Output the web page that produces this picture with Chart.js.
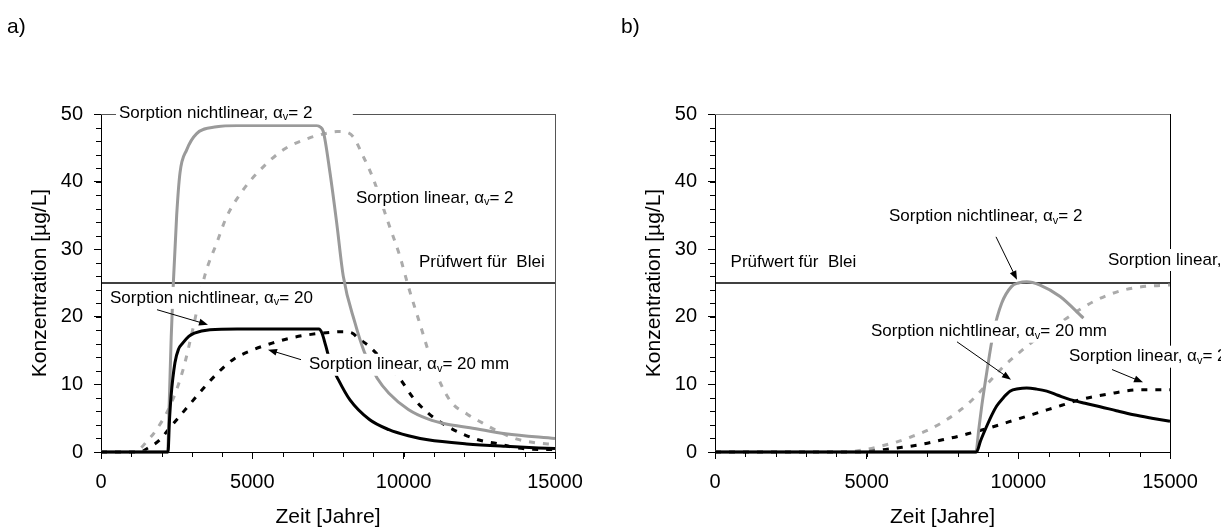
<!DOCTYPE html>
<html>
<head>
<meta charset="utf-8">
<script src="https://cdn.jsdelivr.net/npm/chart.js@4.4.1/dist/chart.umd.min.js"></script>
<style>
    body { margin: 0; background: #fff; }
    #wrap { position: relative; width: 1221px; height: 530px; overflow: hidden; }
    canvas { position: absolute; top: 0; }
    #chartA { left: 0; }
    #chartB { left: 614px; }
</style>
</head>
<body>
<div id="wrap">
    <canvas id="chartA" width="610" height="530"></canvas>
    <canvas id="chartB" width="607" height="530"></canvas>
</div>
<script>
// axes
const yearTicks = [0, 5000, 10000, 15000];
const concTicks = [0, 10, 20, 30, 40, 50];
const yearMinorStep = 1000;
const concMinorStep = 2;
const pruefwert = 25;

// panel a) 
const aNonlin2X = [0, 2200, 2260, 2320, 2390, 2500, 2610, 2831, 3161, 3822, 4500, 7126, 7236, 7346, 7566, 7787, 8005, 8392, 8700, 9126, 9512, 10154, 10797, 11440, 12192, 13368, 15000];
const aNonlin2Y = [0, 0, 8, 17, 25, 35, 41.3, 44.7, 47.1, 48.1, 48.3, 48.3, 48.1, 47.4, 41.3, 33.9, 26.0, 19.1, 14.8, 10.9, 8.7, 6.3, 4.9, 4.1, 3.6, 2.7, 2.0];
const aNonlin20X = [0, 2215, 2260, 2314, 2443, 2560, 2699, 2900, 3085, 3599, 4500, 7198, 7300, 7420, 7583, 7841, 8226, 8869, 9512, 10154, 10797, 12082, 13368, 15000];
const aNonlin20Y = [0, 0, 4.5, 8.2, 13.2, 15.2, 16.1, 17.1, 17.6, 18.1, 18.2, 18.2, 17.6, 15.8, 13.2, 10.7, 7.7, 4.8, 3.3, 2.4, 1.8, 1.2, 0.84, 0.5];
const aLin2X = [0, 1150, 1300, 1500, 1800, 2300, 2700, 3000, 3436, 3822, 4152, 4702, 5253, 6023, 6850, 7500, 7800, 8100, 8336, 8667, 8970, 9493, 9879, 10154, 10500, 11000, 11550, 12100, 12600, 13100, 13750, 14300, 15000];
const aLin2Y = [0, 0, 0.5, 1.5, 3.1, 7, 12, 17.5, 26.2, 30.9, 34.8, 38.8, 41.7, 44.7, 46.4, 47.2, 47.4, 47.3, 46.6, 43.7, 40.7, 33.9, 28.9, 24.5, 19.5, 12.5, 7.5, 5.6, 4.3, 3.1, 1.9, 1.4, 1.1];
const aLin20X = [0, 1300, 1550, 1894, 2314, 2828, 3342, 3856, 4370, 5013, 5655, 6298, 6941, 7583, 7969, 8300, 8483, 8869, 9383, 9897, 10283, 10797, 11440, 12423, 13083, 13678, 14273, 15000];
const aLin20Y = [0, 0, 0.6, 1.6, 3.8, 6.5, 9.2, 11.7, 13.7, 15.1, 16.1, 16.9, 17.4, 17.7, 17.8, 17.6, 16.9, 15.6, 13.2, 10.7, 8.2, 5.8, 3.8, 1.85, 1.25, 0.66, 0.4, 0.35];

// panel b)
const bNonlin2X = [0, 8600, 8700, 8800, 8956, 9176, 9450, 9780, 10000, 10275, 10716, 11377, 12147];
const bNonlin2Y = [0, 0, 3.5, 7, 11.7, 17.6, 22.0, 24.5, 25.0, 25.2, 24.7, 23.0, 19.8];
const bNonlin20X = [0, 8620, 8750, 8956, 9128, 9286, 9500, 9725, 10000, 10275, 10600, 10936, 11300, 11707, 12200, 12698, 13231, 13799, 14400, 15000];
const bNonlin20Y = [0, 0, 1.6, 3.8, 5.5, 6.8, 8.0, 9.0, 9.35, 9.45, 9.3, 9.0, 8.4, 7.75, 7.2, 6.7, 6.1, 5.5, 5.0, 4.55];
const bLin2X = [0, 4300, 5000, 5500, 6000, 6500, 7000, 7500, 8000, 8500, 9000, 9500, 10000, 10500, 11000, 11500, 12000, 12500, 13000, 13500, 14000, 14500, 15000];
const bLin2Y = [0, 0, 0.4, 0.9, 1.5, 2.3, 3.2, 4.4, 5.9, 7.8, 10.2, 12.6, 14.6, 16.4, 17.9, 19.5, 21, 22.3, 23.3, 24, 24.4, 24.6, 24.7];
const bLin20X = [0, 4800, 5500, 6000, 6500, 7000, 7500, 8000, 8500, 9000, 9500, 10000, 10500, 11000, 11500, 12000, 12500, 13000, 13500, 14000, 14500, 15000];
const bLin20Y = [0, 0, 0.3, 0.6, 0.9, 1.3, 1.8, 2.3, 2.9, 3.5, 4.2, 4.9, 5.6, 6.3, 7.0, 7.7, 8.2, 8.6, 9.0, 9.2, 9.2, 9.2];

const FONT = '"Liberation Sans", Arial, sans-serif';
const GRAY = '#9a9a9a';
const GRAY_DASH = '#ababab';

function series(xs, ys) {
    return xs.map((v, i) => ({x: v, y: ys[i]}));
}

function line(data, color, dashed, width) {
    return {
        data: data,
        borderColor: color,
        borderWidth: width || 3,
        borderDash: dashed ? [6, 8] : [],
        pointRadius: 0,
        cubicInterpolationMode: 'monotone',
        clip: 6
    };
}

function pruefLine() {
    const first = yearTicks[0], last = yearTicks[yearTicks.length - 1];
    return line(series([first, last], [pruefwert, pruefwert]), '#000', false, 1.5);
}

// text label with optional alpha_v part, and a white box behind it
function drawNote(chart, n) {
    const {ctx, scales: {x, y}} = chart;
    const px = x.getPixelForValue(n.x), py = y.getPixelForValue(n.y);
    const main = '17px ' + FONT, sub = '11px ' + FONT;
    const segs = [{t: n.text, f: main, dy: 0}];
    if (n.rest !== undefined) {
        segs.push({t: 'α', f: main, dy: 0}, {t: 'v', f: sub, dy: 4}, {t: n.rest, f: main, dy: 0});
    }
    let w = 0;
    segs.forEach(s => { ctx.font = s.f; s.w = ctx.measureText(s.t).width; w += s.w; });
    const right = n.boxTo !== undefined ? x.getPixelForValue(n.boxTo) : px + w + 2;
    ctx.fillStyle = '#fff';
    ctx.fillRect(px - 3, py - 11, right - px + 3, 22);
    ctx.fillStyle = '#000';
    ctx.textBaseline = 'middle';
    ctx.textAlign = 'left';
    let cx = px;
    segs.forEach(s => { ctx.font = s.f; ctx.fillText(s.t, cx, py + s.dy); cx += s.w; });
}

function drawArrow(chart, a) {
    const {ctx, scales: {x, y}} = chart;
    const x0 = x.getPixelForValue(a[0]), y0 = y.getPixelForValue(a[1]);
    const x1 = x.getPixelForValue(a[2]), y1 = y.getPixelForValue(a[3]);
    const ang = Math.atan2(y1 - y0, x1 - x0);
    ctx.strokeStyle = '#000';
    ctx.fillStyle = '#000';
    ctx.lineWidth = 1;
    ctx.beginPath();
    ctx.moveTo(x0, y0);
    ctx.lineTo(x1 - 6 * Math.cos(ang), y1 - 6 * Math.sin(ang));
    ctx.stroke();
    ctx.beginPath();
    ctx.moveTo(x1, y1);
    ctx.lineTo(x1 - 9 * Math.cos(ang) + 3.5 * Math.sin(ang), y1 - 9 * Math.sin(ang) - 3.5 * Math.cos(ang));
    ctx.lineTo(x1 - 9 * Math.cos(ang) - 3.5 * Math.sin(ang), y1 - 9 * Math.sin(ang) + 3.5 * Math.cos(ang));
    ctx.closePath();
    ctx.fill();
}

function extras(cfg) {
    return {
        id: 'extras',
        afterDatasetsDraw(chart) {
            const {ctx, chartArea: a, scales: {x, y}} = chart;
            ctx.save();
            // frame top / right
            ctx.lineWidth = 1;
            ctx.strokeStyle = cfg.topColor;
            ctx.beginPath();
            ctx.moveTo(a.left, a.top + 0.5);
            ctx.lineTo(a.right + 1, a.top + 0.5);
            ctx.stroke();
            ctx.strokeStyle = cfg.rightColor;
            ctx.beginPath();
            ctx.moveTo(a.right + 0.5, a.top);
            ctx.lineTo(a.right + 0.5, a.bottom);
            ctx.stroke();
            // minor ticks
            ctx.strokeStyle = '#000';
            ctx.beginPath();
            for (let v = x.min; v <= x.max; v += yearMinorStep) {
                const px = Math.round(x.getPixelForValue(v)) + 0.5;
                ctx.moveTo(px, a.bottom);
                ctx.lineTo(px, a.bottom + 5);
            }
            for (let v = y.min; v <= y.max; v += concMinorStep) {
                const py = Math.round(y.getPixelForValue(v)) + 0.5;
                ctx.moveTo(a.left - 5, py);
                ctx.lineTo(a.left, py);
            }
            ctx.stroke();
            cfg.notes.forEach(n => drawNote(chart, n));
            cfg.arrows.forEach(ar => drawArrow(chart, ar));
            ctx.restore();
        }
    };
}

function makeChart(id, tag, datasets, cfg, padRight) {
    const ctx = document.getElementById(id).getContext('2d');
    return new Chart(ctx, {
        type: 'line',
        data: {datasets: datasets},
        options: {
            responsive: false,
            animation: false,
            events: [],
            layout: {padding: {left: 7, right: padRight, top: 0, bottom: 0}},
            plugins: {
                legend: {display: false},
                tooltip: {enabled: false},
                title: {
                    display: true,
                    text: tag,
                    align: 'start',
                    color: '#000',
                    font: {family: FONT, size: 21, weight: 'normal'},
                    padding: {top: 15, bottom: 73.8}
                }
            },
            scales: {
                x: {
                    type: 'linear',
                    min: yearTicks[0],
                    max: yearTicks[yearTicks.length - 1],
                    afterBuildTicks: s => { s.ticks = yearTicks.map(v => ({value: v})); },
                    afterFit: s => { s.height = 78; },
                    grid: {drawOnChartArea: false, drawTicks: true, tickLength: 7, color: '#000'},
                    border: {display: true, color: '#000'},
                    ticks: {color: '#000', font: {family: FONT, size: 20}, padding: 11, maxRotation: 0,
                        callback: v => String(v)},
                    title: {display: true, text: 'Zeit [Jahre]', color: '#000', font: {family: FONT, size: 21}, padding: {top: 0, bottom: 0}}
                },
                y: {
                    type: 'linear',
                    min: concTicks[0],
                    max: concTicks[concTicks.length - 1],
                    afterBuildTicks: s => { s.ticks = concTicks.map(v => ({value: v})); },
                    afterFit: s => { s.width = 94; },
                    grid: {drawOnChartArea: false, drawTicks: true, tickLength: 7, color: '#000'},
                    border: {display: true, color: '#000'},
                    ticks: {color: '#000', font: {family: FONT, size: 20}, padding: 11,
                        callback: v => String(v)},
                    title: {display: true, text: 'Konzentration [µg/L]', color: '#000', font: {family: FONT, size: 21}, padding: {top: 21, bottom: 0}}
                }
            }
        },
        plugins: [extras(cfg)]
    });
}

makeChart('chartA', 'a)', [
    line(series(aNonlin20X, aNonlin20Y), '#000', false),
    line(series(aNonlin2X, aNonlin2Y), GRAY, false),
    line(series(aLin20X, aLin20Y), '#000', true),
    line(series(aLin2X, aLin2Y), GRAY_DASH, true),
    pruefLine()
], {
    topColor: '#555',
    rightColor: '#555',
    notes: [
        {x: 595, y: 50.1, text: 'Sorption nichtlinear, ', rest: '= 2', boxTo: 8320},
        {x: 8425, y: 37.6, text: 'Sorption linear, ', rest: '= 2'},
        {x: 10507, y: 28, text: 'Prüfwert für  Blei'},
        {x: 297, y: 22.8, text: 'Sorption nichtlinear, ', rest: '= 20'},
        {x: 6872, y: 12.9, text: 'Sorption linear, ', rest: '= 20 mm'}
    ],
    arrows: [
        [1850, 21.05, 3535, 18.83],
        [6608, 13.66, 5518, 15.14]
    ]
}, 55);

makeChart('chartB', 'b)', [
    line(series(bNonlin20X, bNonlin20Y), '#000', false),
    line(series(bNonlin2X, bNonlin2Y), GRAY, false),
    line(series(bLin20X, bLin20Y), '#000', true),
    line(series(bLin2X, bLin2Y), GRAY_DASH, true),
    pruefLine()
], {
    topColor: '#777',
    rightColor: '#000',
    notes: [
        {x: 5736, y: 34.8, text: 'Sorption nichtlinear, ', rest: '= 2'},
        {x: 514, y: 28, text: 'Prüfwert für  Blei'},
        {x: 12956, y: 28.4, text: 'Sorption linear, ', rest: '= 2'},
        {x: 5143, y: 17.8, text: 'Sorption nichtlinear, ', rest: '= 20 mm'},
        {x: 11670, y: 14.1, text: 'Sorption linear, ', rest: '= 20 mm'}
    ],
    arrows: [
        [9264, 31.83, 9956, 25.48],
        [7978, 16.3, 9758, 10.7],
        [13088, 12.2, 14110, 10.3]
    ]
}, 51);
</script>
</body>
</html>
